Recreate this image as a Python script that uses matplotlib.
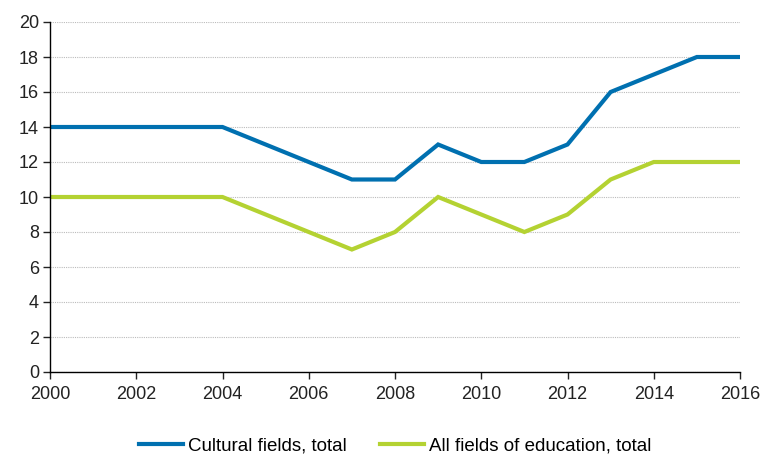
import matplotlib
matplotlib.use("Agg")
import matplotlib.pyplot as plt

years = list(range(2000, 2017))
cultural = [14, 14, 14, 14, 14, 13, 12, 11, 11, 13, 12, 12, 13, 16, 17, 18, 18]
all_fields = [10, 10, 10, 10, 10, 9, 8, 7, 8, 10, 9, 8, 9, 11, 12, 12, 12]
labels = ["Cultural fields, total", "All fields of education, total"]
xticks = list(range(2000, 2017, 2))
yticks = list(range(0, 21, 2))

plt.rcParams['font.family'] = ['Liberation Sans', 'DejaVu Sans']
fig = plt.figure(figsize=(7.63, 4.54), dpi=100)
ax = fig.add_axes([50/763, 1-372/454, 690/763, 350/454])

ax.plot(years, cultural, color="#0070B0", lw=3, label=labels[0], solid_joinstyle='miter')
ax.plot(years, all_fields, color="#B4D232", lw=3, label=labels[1], solid_joinstyle='miter')

ax.set_xlim(2000, 2016)
ax.set_ylim(0, 20)
ax.set_xticks(xticks)
ax.set_yticks(yticks)
ax.grid(axis='y', color='#bbbbbb', linestyle=(0, (1, 1)), linewidth=0.8)
ax.set_axisbelow(True)
for s in ['top', 'right']:
    ax.spines[s].set_visible(False)
for s in ['left', 'bottom']:
    ax.spines[s].set_color('black')
    ax.spines[s].set_linewidth(1)
ax.tick_params(axis='both', direction='out', length=5, width=1, labelsize=13, colors='#222222', pad=3)
ax.tick_params(axis='x', pad=5)

fig.legend(loc='center', bbox_to_anchor=(395/763, 1-446/454), ncol=2, frameon=False,
           fontsize=13.5, handlelength=2.35, handletextpad=0.25, columnspacing=1.8,
           borderpad=0, borderaxespad=0)

fig.savefig("out.png", dpi=100)
